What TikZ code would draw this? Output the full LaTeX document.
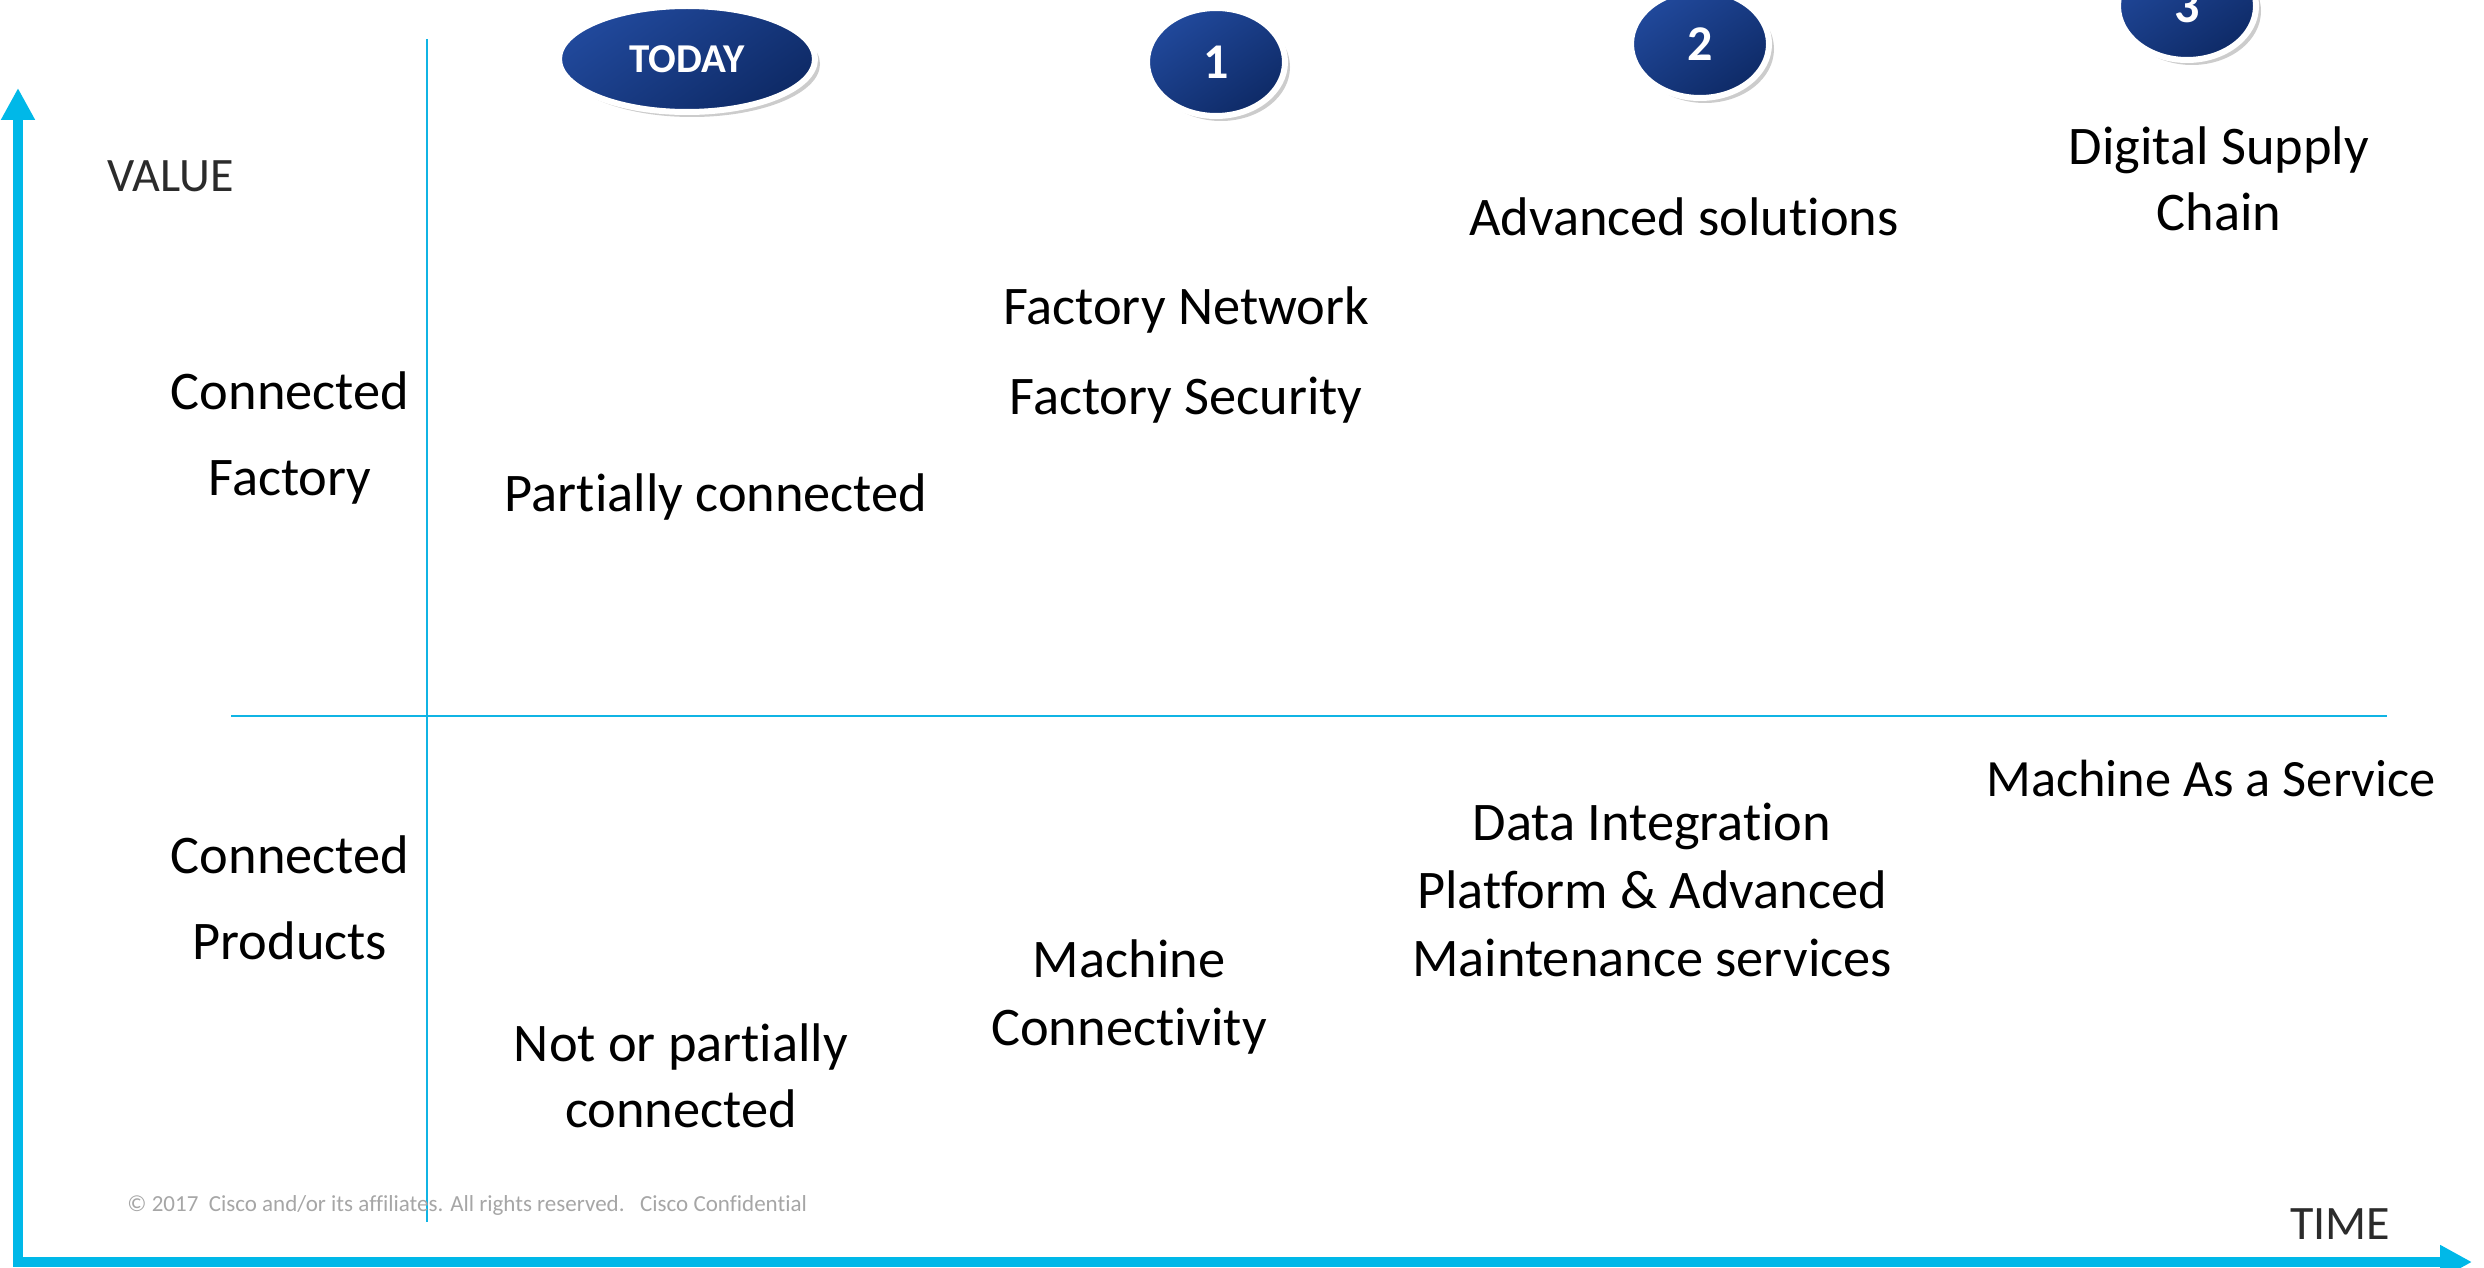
\documentclass[tikz,border=0pt]{standalone}
\usepackage{fontspec}
\setmainfont[Ligatures=NoCommon]{Carlito}
\newfontfamily\badgefont{Carlito}
\usetikzlibrary{arrows.meta,shapes.geometric,shadows}
\definecolor{axiscyan}{HTML}{00B8E8}
\definecolor{gridcyan}{HTML}{10B4E4}
\definecolor{badgeA}{HTML}{21499C}
\definecolor{badgeB}{HTML}{0E2A66}
\definecolor{labelgray}{HTML}{2B2B2B}
\definecolor{footgray}{HTML}{A6A6A6}
\tikzset{
  axisline/.style={draw=axiscyan, line width=5pt, line join=miter,
    arrows={Triangle[length=16pt,width=16pt]-Triangle[length=16pt,width=16pt]}},
  gridline/.style={draw=gridcyan, line width=1pt},
  badge/.style={ellipse, inner sep=0pt, draw=white, line width=3pt,
    top color=badgeA, bottom color=badgeB, shading angle=35,
    drop shadow={shadow xshift=2.5pt, shadow yshift=-2.5pt, opacity=0.2, fill=black},
    text=white},
  body/.style={align=center, text=black, inner sep=0pt},
  axislabel/.style={text=labelgray, inner sep=0pt, font=\fontsize{24}{28}\selectfont},
}
\begin{document}
\begin{tikzpicture}[x=0.5pt, y=-0.5pt]
\useasboundingbox (0,0) rectangle (2484,1268);
% axes
\coordinate (ytip) at (18,88);
\coordinate (origin) at (18,1262);
\coordinate (xtip) at (2472,1262);
\draw[axisline] (ytip) -- (origin) -- (xtip);
% grid lines
\coordinate (vtop) at (427,39);
\coordinate (vbot) at (427,1222);
\coordinate (hleft) at (231,716);
\coordinate (hright) at (2387,716);
\draw[gridline] (vtop) -- (vbot);
\draw[gridline] (hleft) -- (hright);
% badges
\node[badge, minimum width=128pt, minimum height=53pt, font=\badgefont\bfseries\fontsize{20.5}{22}\selectfont] (today) at (687,59) {TODAY};
\node[badge, minimum width=69pt, minimum height=54pt, font=\badgefont\bfseries\fontsize{25}{27}\selectfont] (b1) at (1216,62) {1};
\node[badge, minimum width=69pt, minimum height=54pt, font=\badgefont\bfseries\fontsize{25}{27}\selectfont] (b2) at (1700,44) {2};
\node[badge, minimum width=69pt, minimum height=54pt, font=\badgefont\bfseries\fontsize{25}{27}\selectfont] (b3) at (2187,6) {3};
% axis labels
\node[axislabel, anchor=west] (value) at (107,176) {VALUE};
\node[axislabel] (time) at (2340,1224) {TIME};
% row labels
\node[body, font=\fontsize{27.2}{43}\selectfont] (cfactory) at (290,438) {Connected\\Factory};
\node[body, font=\fontsize{27.2}{43}\selectfont] (cproducts) at (290,898) {Connected\\Products};
% cells
\node[body, font=\fontsize{27.2}{34}\selectfont] (partial) at (716,497) {Partially connected};
\node[body, font=\fontsize{27.2}{33}\selectfont] (notpartial) at (681,1076) {Not or partially\\connected};
\node[body, font=\fontsize{27.2}{45}\selectfont] (fnet) at (1186,355) {Factory Network\\Factory Security};
\node[body, font=\fontsize{27.2}{34}\selectfont] (mconn) at (1129,997) {Machine\\Connectivity};
\node[body, font=\fontsize{27.2}{34}\selectfont] (adv) at (1684,217) {Advanced solutions};
\node[body, font=\fontsize{27.2}{34}\selectfont] (dip) at (1652,890) {Data Integration\\Platform \& Advanced\\Maintenance services};
\node[body, font=\fontsize{27.2}{33}\selectfont] (dsc) at (2219,179) {Digital Supply\\Chain};
\node[body, font=\fontsize{26.2}{34}\selectfont] (maas) at (2211,778) {Machine As a Service};
% footer
\node[text=footgray, inner sep=0pt, anchor=west, font=\fontsize{11.5}{14}\selectfont] (footer) at (127,1205) {\textcopyright{} 2017\ \ Cisco and/or its affiliates. All rights reserved.\ \ \ Cisco Confidential};
\end{tikzpicture}
\end{document}
